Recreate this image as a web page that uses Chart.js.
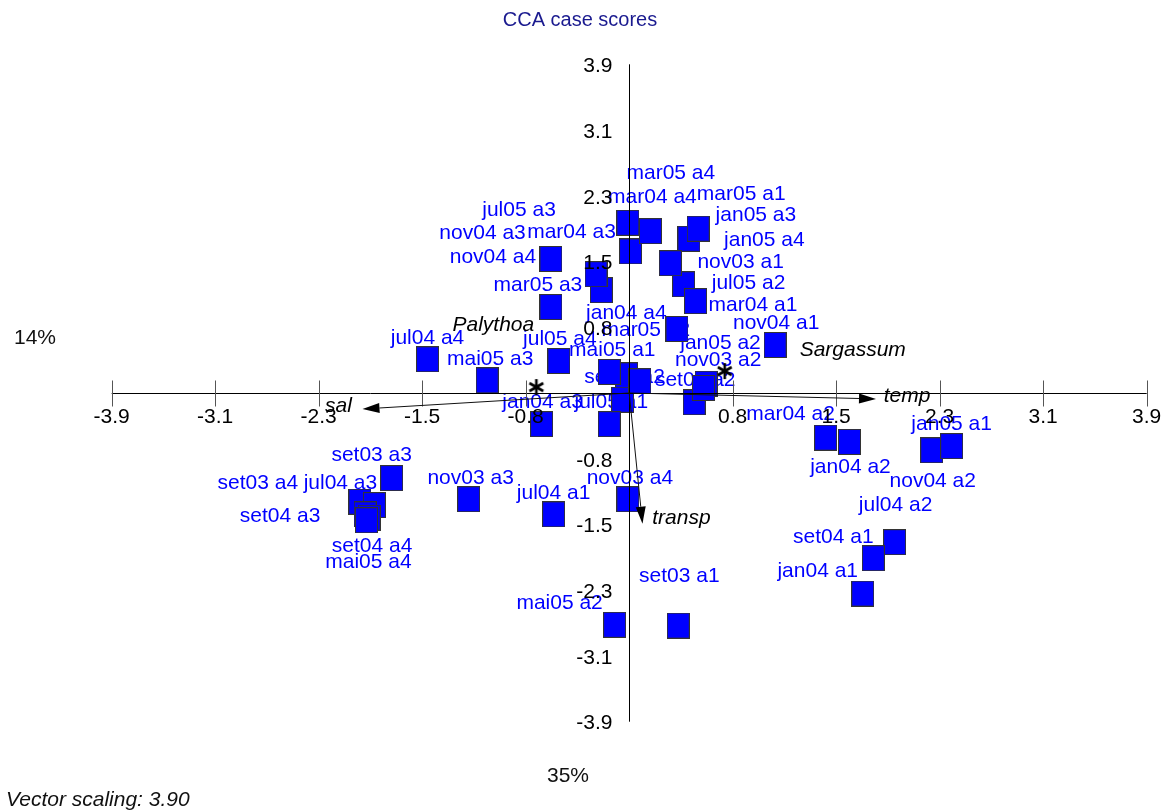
<!DOCTYPE html>
<html>
<head>
<meta charset="utf-8">
<title>CCA case scores</title>
<script src="https://cdn.jsdelivr.net/npm/chart.js@4.4.1/dist/chart.umd.min.js"></script>
<style>
  html, body { margin: 0; padding: 0; background: #fff; }
</style>
</head>
<body>
<canvas id="myChart" width="1165" height="811"></canvas>
<script>
// case scores (axis 1, axis 2)
const sampleNames = [
    "set03 a1", "set03 a2", "set03 a3", "set03 a4",
    "nov03 a1", "nov03 a2", "nov03 a3", "nov03 a4",
    "jan04 a1", "jan04 a2", "jan04 a3", "jan04 a4",
    "mar04 a1", "mar04 a2", "mar04 a3", "mar04 a4",
    "jul04 a1", "jul04 a2", "jul04 a3", "jul04 a4",
    "set04 a1", "set04 a2", "set04 a3", "set04 a4",
    "nov04 a1", "nov04 a2", "nov04 a3", "nov04 a4",
    "jan05 a1", "jan05 a2", "jan05 a3", "jan05 a4",
    "mar05 a1", "mar05 a2", "mar05 a3", "mar05 a4",
    "mai05 a1", "mai05 a2", "mai05 a3", "mai05 a4",
    "jul05 a1", "jul05 a2", "jul05 a3", "jul05 a4"
];
const scoreX = [
    0.37, -0.05, -1.79, -2.03,
    0.41, 0.58, -1.21, -0.01,
    1.76, 1.66, -0.66, -0.21,
    0.36, 1.48, 0.01, 0.16,
    -0.57, 2.00, -1.92, -1.52,
    1.84, 0.49, -1.99, -1.96,
    1.10, 2.28, -0.02, -0.59,
    2.43, 0.56, 0.45, 0.31,
    0.52, 0.08, -0.59, -0.01,
    -0.15, -0.11, -1.07, -1.98,
    -0.15, 0.50, -0.25, -0.53
];
const scoreY = [
    -2.76, -0.08, -1.01, -1.29,
    1.29, 0.11, -1.26, -1.26,
    -2.38, -0.58, -0.37, 1.22,
    0.76, -0.53, 1.68, 1.92,
    -1.44, -1.77, -1.33, 0.40,
    -1.96, -0.11, -1.44, -1.48,
    0.57, -0.68, 0.21, 1.59,
    -0.63, 0.06, 1.83, 1.54,
    1.95, 0.14, 1.02, 2.02,
    0.25, -2.75, 0.15, -1.51,
    -0.37, 1.09, 1.41, 0.38
];

// species scores
const speciesNames = ["Palythoa", "Sargassum"];
const speciesX = [-0.70, 0.72];
const speciesY = [0.07, 0.26];

// environmental vectors (already scaled)
const envNames = ["sal", "temp", "transp"];
const envX = [-2.01, 1.86, 0.10];
const envY = [-0.19, -0.07, -1.55];

const tickValues = [-3.9, -3.12, -2.34, -1.56, -0.78, 0.78, 1.56, 2.34, 3.12, 3.9];
const tickLabels = ["-3.9", "-3.1", "-2.3", "-1.5", "-0.8", "0.8", "1.5", "2.3", "3.1", "3.9"];
const axis1Percent = "35%";
const axis2Percent = "14%";
const vectorScaling = "3.90";

// where each case label sits relative to its marker (pixels)
const labelOffsets = [
    [1, -49], [2, -23], [-20, -23], [-102, -19],
    [57, -22], [12, -24], [2, -21], [2, -21],
    [-45, -22], [1, 25], [1, -22], [25, 23],
    [76, -24], [-35, -23], [-59, -19], [2, -34],
    [0, -21], [1, -37], [-34, -22], [0, -21],
    [-40, -21], [1, -22], [-85, 2], [3, 28],
    [1, -22], [1, 31], [-144, -142], [-58, -2],
    [0, -22], [17, -45], [67, -24], [94, -23],
    [43, -34], [6, -51], [-13, -22], [43, -50],
    [3, -22], [-55, -22], [3, -21], [2, 42],
    [2, -22], [53, -18], [-77, -64], [1, -22]
];
const speciesLabelOffsets = [[-43, -62], [128, -21]];
const envLabelOffsets = [[-24, -3], [31, -3], [39, -5]];

const FONT = "'Liberation Sans', Arial, sans-serif";

function makeSquare() {
    const c = document.createElement("canvas");
    c.width = 23;
    c.height = 26;
    const g = c.getContext("2d");
    g.fillStyle = "#333333";
    g.fillRect(0, 0, 23, 26);
    g.fillStyle = "#0000ff";
    g.fillRect(1, 1, 21, 24);
    return c;
}

function makeAsterisk() {
    const c = document.createElement("canvas");
    c.width = 20;
    c.height = 20;
    const g = c.getContext("2d");
    g.strokeStyle = "#000";
    g.lineWidth = 2.6;
    g.lineCap = "butt";
    for (let k = 0; k < 3; k++) {
        const a = Math.PI / 2 + k * Math.PI / 3;
        g.beginPath();
        g.moveTo(10 - 8 * Math.cos(a), 10 - 8 * Math.sin(a));
        g.lineTo(10 + 8 * Math.cos(a), 10 + 8 * Math.sin(a));
        g.stroke();
    }
    return c;
}

function drawArrow(ctx, x0, y0, x1, y1) {
    const a = Math.atan2(y1 - y0, x1 - x0);
    const len = 17, half = 5;
    const bx = x1 - len * Math.cos(a);
    const by = y1 - len * Math.sin(a);
    ctx.beginPath();
    ctx.moveTo(x0, y0);
    ctx.lineTo(bx, by);
    ctx.stroke();
    ctx.beginPath();
    ctx.moveTo(x1, y1);
    ctx.lineTo(bx + half * Math.sin(a), by - half * Math.cos(a));
    ctx.lineTo(bx - half * Math.sin(a), by + half * Math.cos(a));
    ctx.closePath();
    ctx.fill();
}

const biplotPlugin = {
    id: "biplot",
    beforeDatasetsDraw(chart) {
        const ctx = chart.ctx;
        const xs = chart.scales.x, ys = chart.scales.y;
        ctx.save();
        ctx.font = "21px " + FONT;
        ctx.fillStyle = "#0000ff";
        ctx.textAlign = "center";
        ctx.textBaseline = "middle";
        sampleNames.forEach((name, i) => {
            const px = xs.getPixelForValue(scoreX[i]) + labelOffsets[i][0];
            const py = ys.getPixelForValue(scoreY[i]) + labelOffsets[i][1];
            ctx.fillText(name, px, py);
        });
        ctx.restore();
    },
    afterDatasetsDraw(chart) {
        const ctx = chart.ctx;
        const xs = chart.scales.x, ys = chart.scales.y;
        const ox = Math.round(xs.getPixelForValue(0)) + 0.5;
        const oy = Math.round(ys.getPixelForValue(0)) + 0.5;
        ctx.save();

        // axes through the origin
        ctx.strokeStyle = "#000";
        ctx.lineWidth = 1;
        ctx.beginPath();
        ctx.moveTo(xs.getPixelForValue(-3.9), oy);
        ctx.lineTo(xs.getPixelForValue(3.9), oy);
        ctx.moveTo(ox, ys.getPixelForValue(3.9));
        ctx.lineTo(ox, ys.getPixelForValue(-3.9));
        ctx.stroke();

        // tick marks on the horizontal axis
        ctx.strokeStyle = "#555";
        ctx.beginPath();
        tickValues.forEach((v) => {
            const px = Math.round(xs.getPixelForValue(v)) + 0.5;
            ctx.moveTo(px, oy - 13);
            ctx.lineTo(px, oy + 13);
        });
        ctx.stroke();

        // environmental arrows
        ctx.strokeStyle = "#111";
        ctx.fillStyle = "#000";
        envNames.forEach((n, i) => {
            drawArrow(ctx, xs.getPixelForValue(0), ys.getPixelForValue(0),
                xs.getPixelForValue(envX[i]), ys.getPixelForValue(envY[i]));
        });

        // tick labels
        ctx.font = "21px " + FONT;
        ctx.fillStyle = "#000";
        ctx.textBaseline = "middle";
        ctx.textAlign = "center";
        tickValues.forEach((v, i) => {
            ctx.fillText(tickLabels[i], xs.getPixelForValue(v), oy + 24);
        });
        ctx.textAlign = "right";
        tickValues.forEach((v, i) => {
            ctx.fillText(tickLabels[i], ox - 17, ys.getPixelForValue(v) + 2);
        });

        // vector and species labels
        ctx.font = "italic 21px " + FONT;
        ctx.textAlign = "center";
        envNames.forEach((n, i) => {
            ctx.fillText(n, xs.getPixelForValue(envX[i]) + envLabelOffsets[i][0],
                ys.getPixelForValue(envY[i]) + envLabelOffsets[i][1]);
        });
        speciesNames.forEach((n, i) => {
            ctx.fillText(n, xs.getPixelForValue(speciesX[i]) + speciesLabelOffsets[i][0],
                ys.getPixelForValue(speciesY[i]) + speciesLabelOffsets[i][1]);
        });

        // title, axis percentages, footer
        ctx.font = "20px " + FONT;
        ctx.fillStyle = "#1a1a8f";
        ctx.fillText("CCA case scores", 580, 20);
        ctx.font = "21px " + FONT;
        ctx.fillStyle = "#111";
        ctx.fillText(axis1Percent, 568, 776);
        ctx.textAlign = "left";
        ctx.fillText(axis2Percent, 14, 338);
        ctx.font = "italic 21px " + FONT;
        ctx.fillText("Vector scaling: " + vectorScaling, 6, 800);
        ctx.restore();
    }
};

document.addEventListener("DOMContentLoaded", function () {
    const ctx = document.getElementById("myChart").getContext("2d");

    new Chart(ctx, {
        type: "scatter",
        data: {
            datasets: [
                {
                    label: "Cases",
                    data: scoreX.map((x, i) => ({ x: x, y: scoreY[i] })),
                    pointStyle: makeSquare(),
                    order: 2,
                    clip: false,
                },
                {
                    label: "Species",
                    data: speciesX.map((x, i) => ({ x: x, y: speciesY[i] })),
                    pointStyle: makeAsterisk(),
                    order: 1,
                    clip: false,
                },
            ],
        },
        options: {
            responsive: false,
            animation: false,
            devicePixelRatio: 1,
            layout: {
                padding: { left: 111.7, right: 18.3, top: 64.3, bottom: 89.3 },
            },
            plugins: {
                legend: { display: false },
                title: { display: false },
                tooltip: { enabled: false },
            },
            scales: {
                x: { type: "linear", min: -3.9, max: 3.9, display: false },
                y: { type: "linear", min: -3.9, max: 3.9, display: false },
            },
        },
        plugins: [biplotPlugin],
    });
});
</script>
</body>
</html>
